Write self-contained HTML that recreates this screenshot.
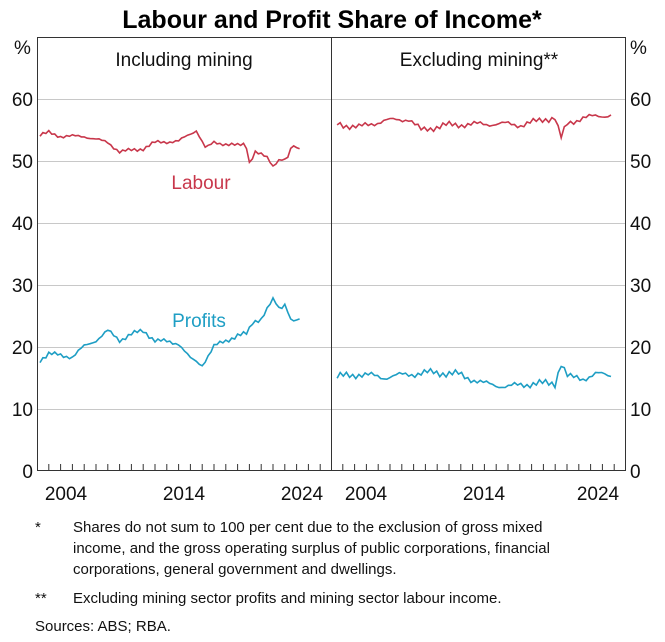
<!DOCTYPE html><html><head><style>body{margin:0;background:#fff}svg{font-family:"Liberation Sans",Arial,sans-serif}</style></head><body>
<svg id="s" width="665" height="637" xmlns="http://www.w3.org/2000/svg">
<text x="332" y="28" font-size="25" font-weight="bold" text-anchor="middle">Labour and Profit Share of Income*</text>
<g stroke="#c8c8c8" stroke-width="1">
<line x1="37" x2="626" y1="99.5" y2="99.5"/><line x1="37" x2="626" y1="161.5" y2="161.5"/><line x1="37" x2="626" y1="223.5" y2="223.5"/><line x1="37" x2="626" y1="285.5" y2="285.5"/><line x1="37" x2="626" y1="347.5" y2="347.5"/><line x1="37" x2="626" y1="409.5" y2="409.5"/>
</g>
<rect x="37.5" y="37.5" width="588" height="433" fill="none" stroke="#333" stroke-width="1"/>
<line x1="331.5" x2="331.5" y1="37" y2="470" stroke="#333"/>
<g id="ticks" stroke="#333"></g>
<g font-size="19" fill="#111">
<text x="14" y="54">%</text><text x="630" y="54">%</text>
<g text-anchor="end"><text x="33" y="106">60</text><text x="33" y="168">50</text><text x="33" y="230">40</text><text x="33" y="292">30</text><text x="33" y="354">20</text><text x="33" y="416">10</text><text x="33" y="478">0</text></g>
<g><text x="630" y="106">60</text><text x="630" y="168">50</text><text x="630" y="230">40</text><text x="630" y="292">30</text><text x="630" y="354">20</text><text x="630" y="416">10</text><text x="630" y="478">0</text></g>
<g text-anchor="middle"><text x="66" y="500">2004</text><text x="184" y="500">2014</text><text x="302" y="500">2024</text><text x="366" y="500">2004</text><text x="484" y="500">2014</text><text x="598" y="500">2024</text></g>
<text x="184" y="66" text-anchor="middle">Including mining</text>
<text x="479" y="66" text-anchor="middle">Excluding mining**</text>
<text x="201" y="189" text-anchor="middle" fill="#c8374b">Labour</text>
<text x="199" y="327" text-anchor="middle" fill="#1e9ec4">Profits</text>
</g>
<g id="lines" fill="none" stroke-width="1.6"></g>
<g font-size="15" fill="#111">
<text x="35" y="532">*</text><text x="73" y="532">Shares do not sum to 100 per cent due to the exclusion of gross mixed</text>
<text x="73" y="553">income, and the gross operating surplus of public corporations, financial</text>
<text x="73" y="574">corporations, general government and dwellings.</text>
<text x="35" y="603">**</text><text x="73" y="603">Excluding mining sector profits and mining sector labour income.</text>
<text x="35" y="631">Sources: ABS; RBA.</text>
</g>
</svg>
<script>
var NS="http://www.w3.org/2000/svg",t=document.getElementById("ticks"),L=document.getElementById("lines");
for(var p=0;p<2;p++)for(var k=1;k<25;k++){var x=37+p*294+k*11.8;var l=document.createElementNS(NS,"line");l.setAttribute("x1",x);l.setAttribute("x2",x);l.setAttribute("y1",464);l.setAttribute("y2",470);t.appendChild(l);}
function draw(off,sc,keys,col,amp,seed){var pts=[],i=0;for(var y=2002.25;y<=2024.3;y+=0.25){while(i<keys.length-2&&keys[i+1][0]<y)i++;var a=keys[i],b=keys[i+1];var f=Math.max(0,Math.min(1,(y-a[0])/(b[0]-a[0])));var v=a[1]+(b[1]-a[1])*f+amp*Math.sin(y*17.3+seed)*Math.cos(y*5.1+seed);pts.push((off+(y-2002)*sc).toFixed(1)+","+(470-v*6.18).toFixed(1));}
var pl=document.createElementNS(NS,"polyline");pl.setAttribute("points",pts.join(" "));pl.setAttribute("stroke",col);L.appendChild(pl);}
var R="#c8374b",B="#1e9ec4";
draw(37,11.8,[[2002,54],[2003,54.6],[2004,54],[2006,54],[2008,53],[2009,51.5],[2011,52],[2012,53],[2014,53.2],[2015.5,55],[2016.3,52],[2017,53],[2019,52.5],[2019.7,52.8],[2020,49.8],[2020.5,51.5],[2021.5,50.5],[2022,49.2],[2022.5,50.3],[2023.2,50.2],[2023.6,52.4],[2024.3,52]],R,0.35,1);
draw(37,11.8,[[2002,17.5],[2003,18.8],[2005,18.3],[2006,20],[2007,21],[2008,22.5],[2009,21],[2010,22],[2011,22.5],[2012,21],[2014,20.5],[2015,18],[2016,17],[2017,20],[2019,21.8],[2019.8,22],[2020.3,24],[2021,24.5],[2022,27.5],[2022.6,26],[2023,27],[2023.6,24],[2024.3,24.2]],B,0.45,2);
draw(334,12.45,[[2002,56],[2004,55.5],[2006,56.5],[2008,56.8],[2009,55],[2011,55.8],[2014,56],[2016,56],[2017,55.8],[2019,56.8],[2019.8,57],[2020.2,53.5],[2020.7,56],[2022,57],[2023,57.2],[2024.3,57.5]],R,0.6,3);
draw(334,12.45,[[2002,15],[2004,15.5],[2006,15],[2008,15.5],[2010,15.8],[2012,15.5],[2014,14],[2016,13.5],[2018,14],[2019.8,14],[2020.2,17.5],[2020.8,15],[2022,14.8],[2023,15.5],[2024.3,15.3]],B,0.7,4);
</script>
</body></html>
